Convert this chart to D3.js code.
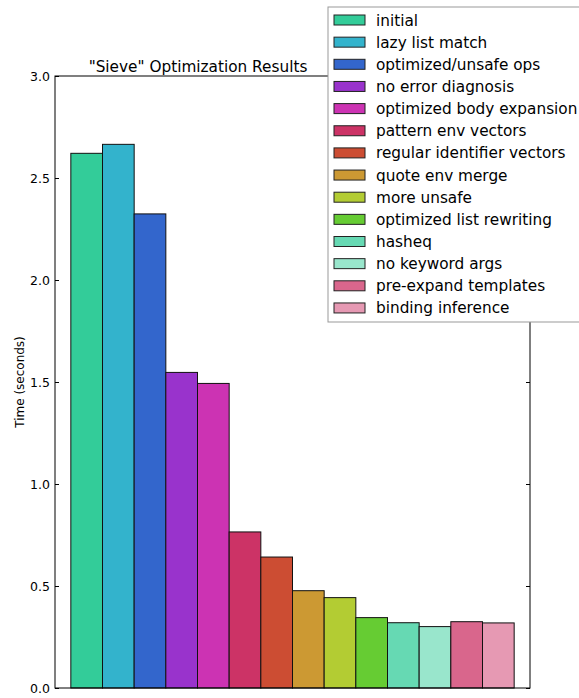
<!DOCTYPE html>
<html>
<head>
<meta charset="utf-8">
<script src="https://cdn.jsdelivr.net/npm/d3@7"></script>
<style>
  body { margin: 0; background: #fff; }
  text { font-family: "DejaVu Sans", sans-serif; }
</style>
</head>
<body>
<svg id="chart" width="579" height="698"></svg>
<script>

let labels = ['initial', 'lazy list match', 'optimized/unsafe ops', 'no error diagnosis',
	'optimized body expansion', 'pattern env vectors', 'regular identifier vectors',
	'quote env merge', 'more unsafe', 'optimized list rewriting', 'hasheq',
	'no keyword args', 'pre-expand templates', 'binding inference']

let times = [2.621, 2.665, 2.324, 1.547, 1.493, 0.765, 0.642, 0.477, 0.443, 0.345, 0.320, 0.301, 0.325, 0.319]

let colors = ['#33cc99', '#33b3cc', '#3366cc', '#9933cc', '#cc33b3', '#cc3366', '#cc4d33',
	'#cc9933', '#b3cc33', '#66cc33', '#66d9b3', '#99e6cc', '#d9668c', '#e699b3']

let yTicks = [0, 0.5, 1.0, 1.5, 2.0, 2.5, 3.0]

let plotL = 55, plotR = 530, plotT = 76, plotB = 688

let svg = d3.select('#chart')

let x = d3.scaleLinear().domain([-0.5, 14.5]).range([plotL, plotR])
let y = d3.scaleLinear().domain([0, 3]).range([plotB, plotT])

// bars
svg.selectAll('.bar')
	.data(times)
	.enter()
	.append('rect')
	.attr('class', 'bar')
	.attr('x', (d, i) => x(i))
	.attr('width', x(1) - x(0))
	.attr('y', d => y(d))
	.attr('height', d => y(0) - y(d))
	.attr('fill', (d, i) => colors[i])
	.attr('stroke', '#111')
	.attr('stroke-width', 1)

// left axis
let yAxis = d3.axisLeft(y).tickValues(yTicks).tickFormat(d3.format('.1f')).tickSizeInner(-4).tickSizeOuter(0).tickPadding(5)
let gy = svg.append('g').attr('transform', 'translate(' + plotL + ',0)').call(yAxis)
gy.select('.domain').remove()
gy.selectAll('text').attr('font-size', 12.5).attr('fill', '#000')
gy.selectAll('line').attr('stroke', '#000')

// right ticks
let yAxisR = d3.axisRight(y).tickValues(yTicks).tickFormat('').tickSizeInner(-4).tickSizeOuter(0)
let gyr = svg.append('g').attr('transform', 'translate(' + plotR + ',0)').call(yAxisR)
gyr.select('.domain').remove()
gyr.selectAll('line').attr('stroke', '#000')

// frame
svg.append('rect')
	.attr('x', plotL).attr('y', plotT)
	.attr('width', plotR - plotL).attr('height', plotB - plotT)
	.attr('fill', 'none').attr('stroke', '#000').attr('stroke-width', 1)

// title
svg.append('text')
	.attr('x', 198).attr('y', 72)
	.attr('text-anchor', 'middle')
	.attr('font-size', 15.3)
	.text('"Sieve" Optimization Results')

// y label
svg.append('text')
	.attr('transform', 'translate(24,' + (plotT + plotB) / 2 + ') rotate(-90)')
	.attr('text-anchor', 'middle')
	.attr('font-size', 12)
	.text('Time (seconds)')

// legend
let legend = svg.append('g').attr('transform', 'translate(328,7)')

legend.append('rect')
	.attr('width', 265).attr('height', 315)
	.attr('fill', '#fff').attr('stroke', '#999').attr('stroke-width', 1)

let rows = legend.selectAll('.row')
	.data(labels)
	.enter()
	.append('g')
	.attr('transform', (d, i) => 'translate(0,' + (13 + i * 22.15) + ')')

rows.append('rect')
	.attr('x', 6).attr('y', -5)
	.attr('width', 31).attr('height', 10)
	.attr('fill', (d, i) => colors[i])
	.attr('stroke', '#222')

rows.append('text')
	.attr('x', 48).attr('y', 5.5)
	.attr('font-size', 15.3)
	.text(d => d)

</script>
</body>
</html>
